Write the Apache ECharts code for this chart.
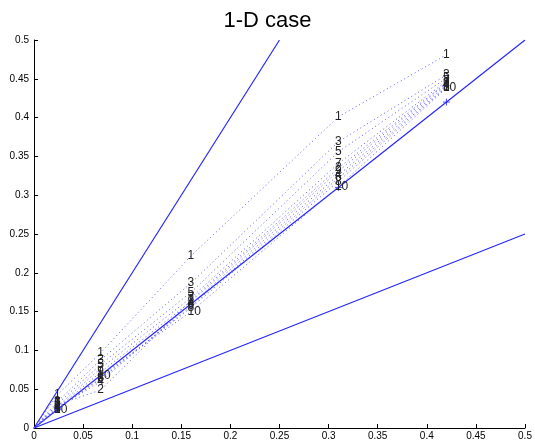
<!DOCTYPE html>
<html><head><meta charset="utf-8">
<script src="https://cdn.jsdelivr.net/npm/echarts@6/dist/echarts.min.js"></script>
<style>html,body{margin:0;padding:0;background:#fff}#c{width:535px;height:445px}</style>
</head><body><div id="c"></div>
<script>
const title = '1-D case';
const xPts = [0, 0.024, 0.068, 0.16, 0.31, 0.42];
const iterations = [
  [0, 0.043, 0.097, 0.222, 0.401, 0.481],
  [0, 0.030, 0.049, 0.165, 0.335, 0.445],
  [0, 0.034, 0.088, 0.187, 0.369, 0.455],
  [0, 0.026, 0.060, 0.160, 0.326, 0.442],
  [0, 0.031, 0.082, 0.175, 0.356, 0.451],
  [0, 0.025, 0.063, 0.157, 0.322, 0.440],
  [0, 0.028, 0.077, 0.168, 0.341, 0.447],
  [0, 0.024, 0.065, 0.155, 0.318, 0.439],
  [0, 0.026, 0.072, 0.163, 0.331, 0.444],
  [0, 0.023, 0.068, 0.150, 0.311, 0.438]
];
const truthY = [0, 0.024, 0.068, 0.16, 0.31, 0.42];
const upperLine = [[0, 0], [0.25, 0.5]];
const diagLine = [[0, 0], [0.5, 0.5]];
const lowerLine = [[0, 0], [0.5, 0.25]];
const xTicks = ['0','0.05','0.1','0.15','0.2','0.25','0.3','0.35','0.4','0.45','0.5'];

const blue = '#2626ff';
const series = [];
iterations.forEach((ys, k) => {
  series.push({
    type: 'line',
    data: xPts.map((x, i) => [x, ys[i]]),
    lineStyle: {color: '#5c5cff', width: 1, type: [1, 3]},
    symbol: 'circle', symbolSize: 1, showSymbol: true,
    itemStyle: {color: 'rgba(0,0,0,0)'},
    label: {
      show: true, position: 'right', distance: -4,
      formatter: p => p.dataIndex === 0 ? '' : String(k + 1),
      color: '#222', fontSize: 12, fontFamily: 'Liberation Sans'
    },
    silent: true, z: 3 + (10 - k)
  });
});
series.push({type: 'line', data: upperLine, lineStyle: {color: blue, width: 1.2}, symbol: 'none', z: 2});
series.push({type: 'line', data: diagLine, lineStyle: {color: blue, width: 1.2}, symbol: 'none', z: 2});
series.push({type: 'line', data: lowerLine, lineStyle: {color: blue, width: 1.2}, symbol: 'none', z: 2});
series.push({
  type: 'scatter',
  data: xPts.slice(1).map((x, i) => [x, truthY[i + 1]]),
  symbol: 'path://M4,0L4,8M0,4L8,4', symbolSize: 7,
  itemStyle: {color: 'none', borderColor: blue, borderWidth: 1}, z: 2
});

const chart = echarts.init(document.getElementById('c'));
chart.setOption({
  animation: false,
  title: {text: title, left: 'center', top: 5,
    textStyle: {fontFamily: 'Liberation Sans', fontSize: 22, fontWeight: 'normal', color: '#000'}},
  grid: {left: 34, right: 10, top: 40, bottom: 17},
  xAxis: {type: 'value', min: 0, max: 0.5, interval: 0.05,
    axisLine: {lineStyle: {color: '#000', width: 1}},
    axisTick: {inside: true, length: 4, lineStyle: {color: '#000'}},
    axisLabel: {color: '#000', fontSize: 10, fontFamily: 'Liberation Sans', margin: 3,
      formatter: (v) => xTicks[Math.round(v / 0.05)]},
    splitLine: {show: false}},
  yAxis: {type: 'value', min: 0, max: 0.5, interval: 0.05,
    axisLine: {show: true, lineStyle: {color: '#000', width: 1}},
    axisTick: {show: true, inside: true, length: 4, lineStyle: {color: '#000'}},
    axisLabel: {color: '#000', fontSize: 10, fontFamily: 'Liberation Sans', margin: 5,
      formatter: (v) => xTicks[Math.round(v / 0.05)]},
    splitLine: {show: false}},
  series: series
});
</script></body></html>
